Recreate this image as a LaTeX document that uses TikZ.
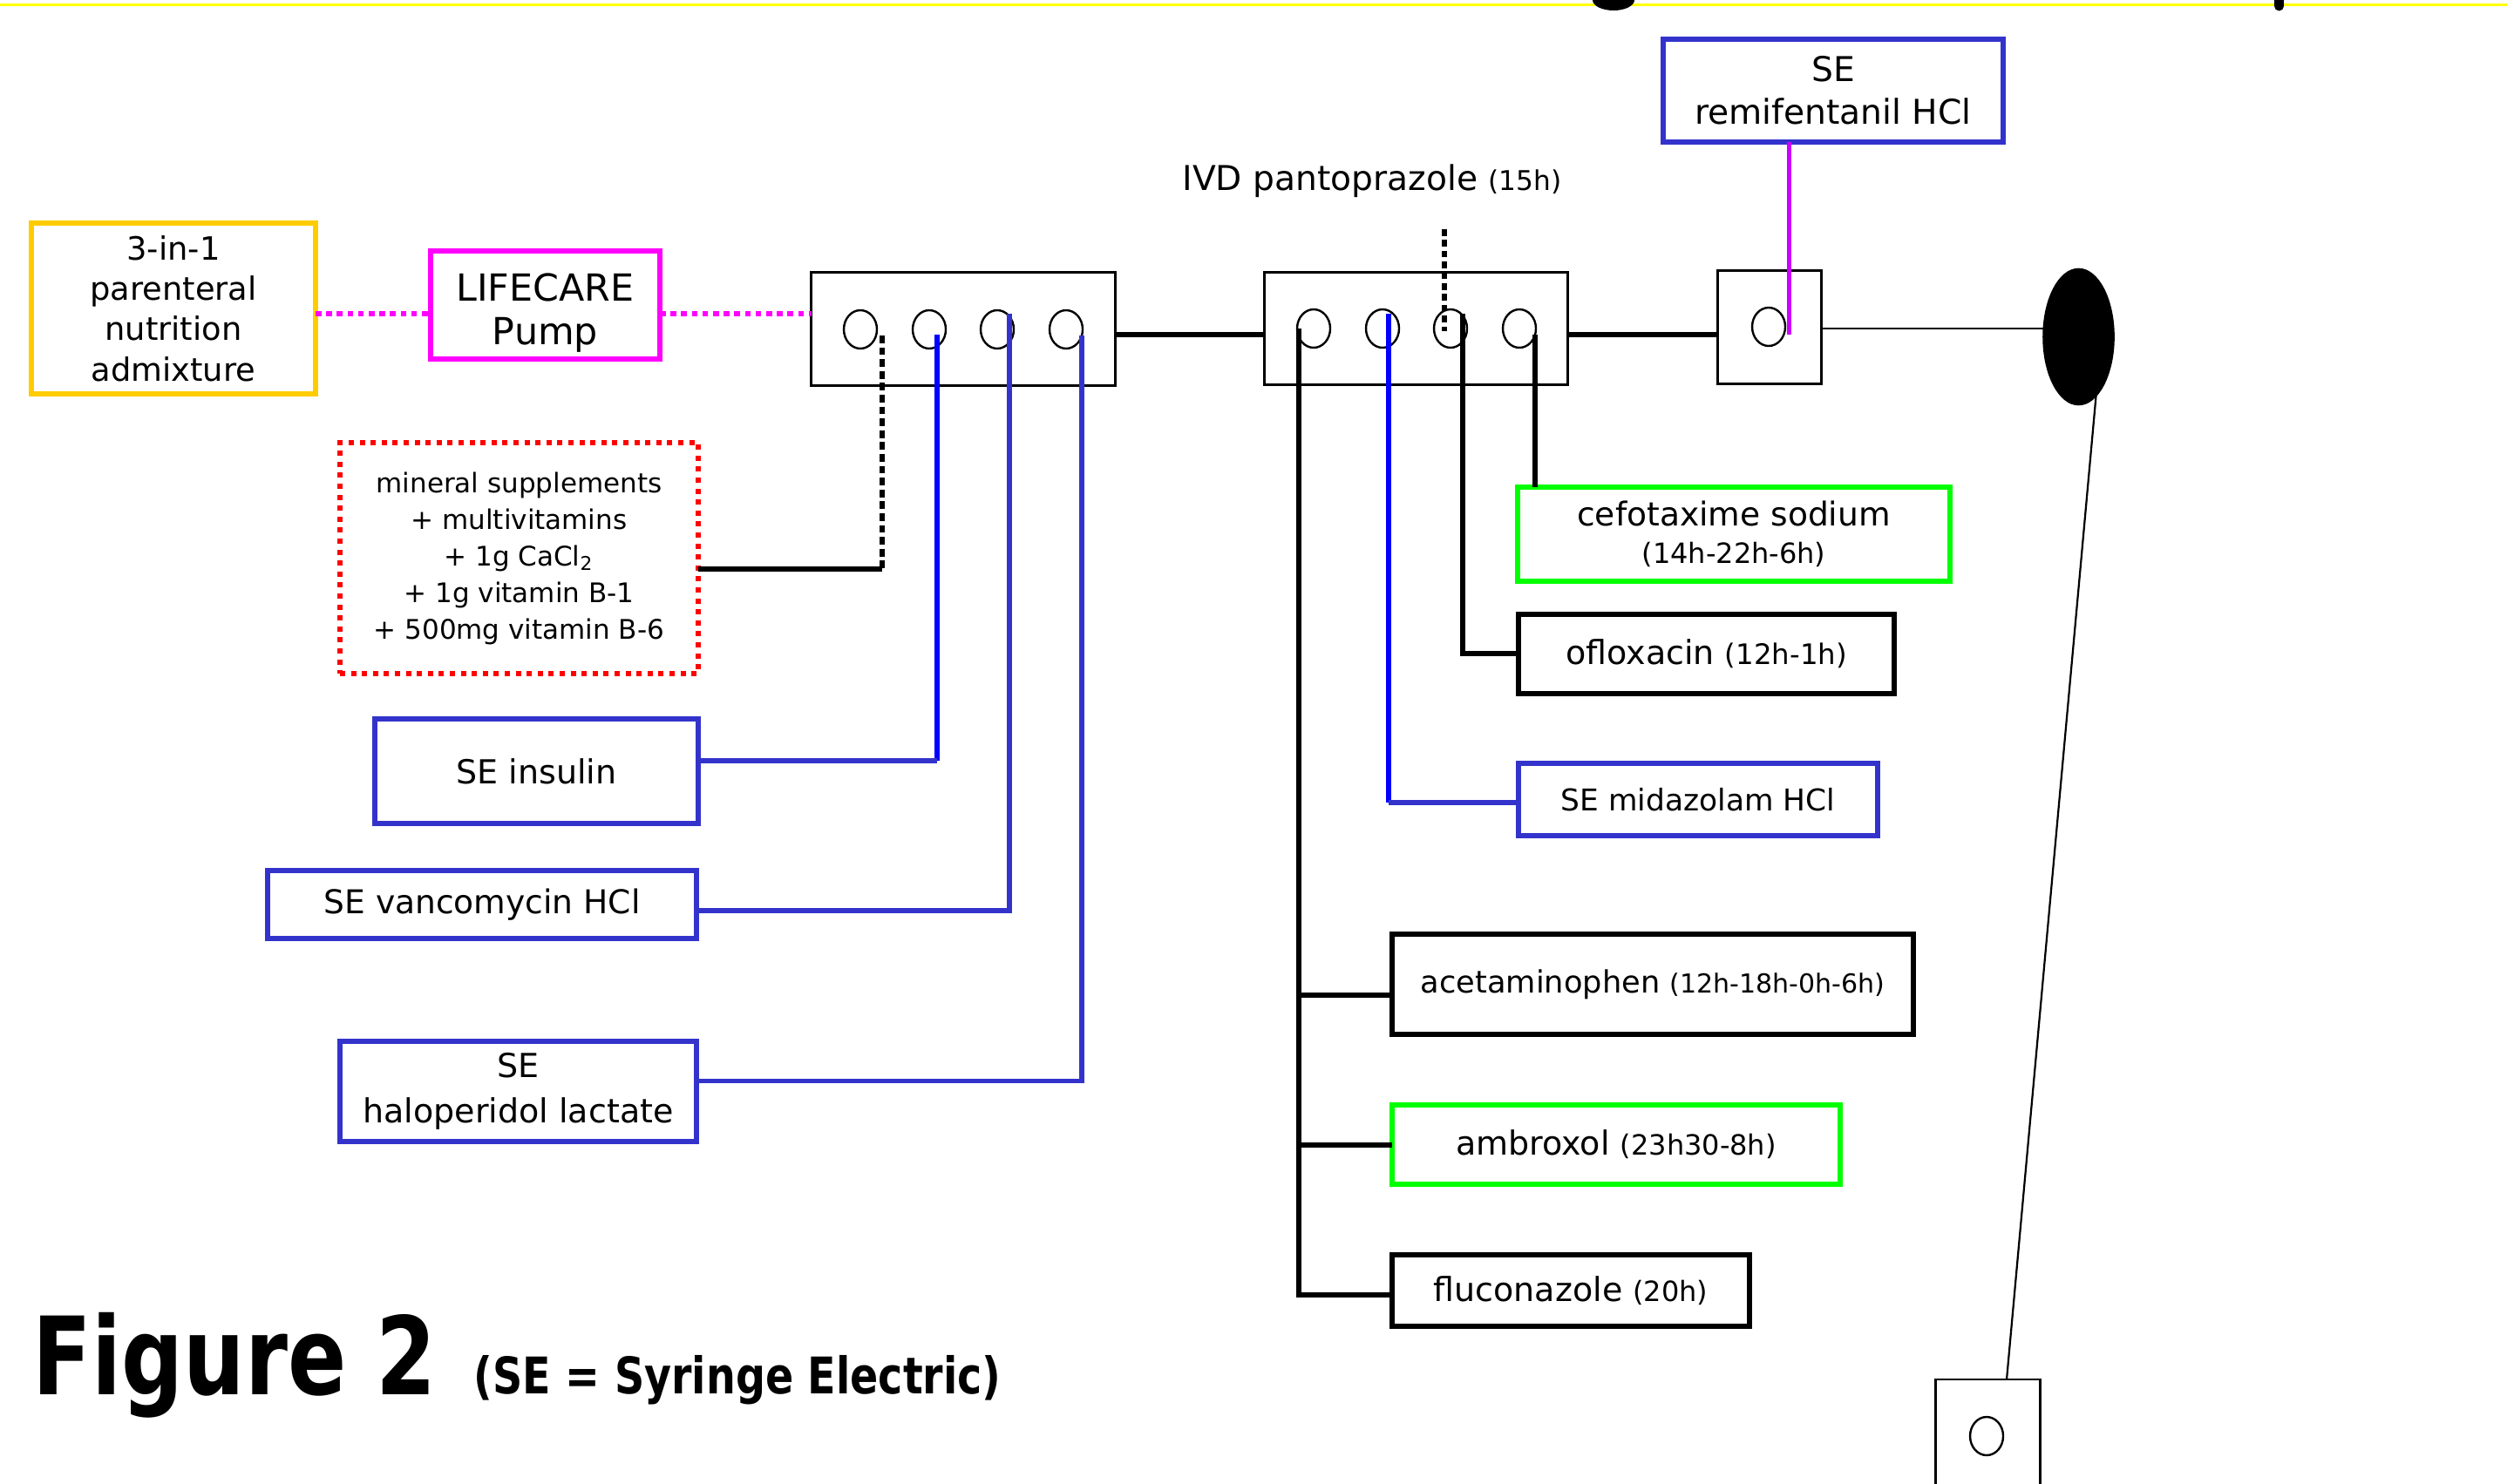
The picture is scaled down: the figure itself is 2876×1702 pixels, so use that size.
\documentclass[tikz,border=0pt]{standalone}
\usepackage{fontspec}
\setmainfont{DejaVu Sans}
\usepackage{graphicx}
\usetikzlibrary{shapes.geometric,calc}
\definecolor{ygold}{HTML}{FFCC00}
\definecolor{magc}{HTML}{FF00FF}
\definecolor{bboxc}{HTML}{3333CC}
\definecolor{bpure}{HTML}{0000FF}
\definecolor{grnc}{HTML}{00FF00}
\definecolor{vioc}{HTML}{CC00FF}
\definecolor{redc}{HTML}{FF0000}
\definecolor{yline}{HTML}{FFFF00}
\newcommand\fsz[2]{\fontsize{#1}{#2}\selectfont}
\tikzset{
  bx/.style={draw, rectangle, inner sep=0pt, outer sep=0pt, line width=1.6pt, align=center, text=black},
  sz/.style 2 args={minimum width=#1*0.25pt, minimum height=#2*0.25pt},
  manif/.style={draw, rectangle, inner sep=0pt, outer sep=0pt, line width=0.7pt},
  port/.style={draw, ellipse, inner sep=0pt, outer sep=0pt, line width=0.6pt, minimum width=9.5pt, minimum height=11pt},
  thk/.style={line width=1.5pt, black},
  bluev/.style={line width=1.3pt, bpure},
  blueh/.style={line width=1.3pt, bboxc},
  magdot/.style={magc, line width=1.5pt, dash pattern=on 1.65pt off 1.4pt},
  kdot/.style={black, line width=1.4pt, dash pattern=on 2.2pt off 1.2pt},
  pdot/.style={black, line width=1.3pt, dash pattern=on 1.9pt off 1.2pt},
  thinl/.style={black, line width=0.45pt},
}
\begin{document}
\begin{tikzpicture}[x=0.25pt,y=-0.25pt]
\fill[white] (0,0) rectangle (2876,1702);
\useasboundingbox (0,0) rectangle (2876,1702);
% top rule and cut-off title fragments
\draw[yline, line width=0.75pt] (0,5.5) -- (2876,5.5);
\fill[black] (1851,0) ellipse [x radius=24, y radius=12];
\fill[black] (2609,-10) rectangle (2620,7);
\fill[black] (2614.5,7) circle [radius=5.5];

% left boxes
\node[bx, draw=ygold, sz={326}{196}, font=\fsz{9.2pt}{11.6pt}] (ybox) at (199,354)
  {3-in-1\\parenteral\\nutrition\\admixture};
\node[bx, draw=magc, sz={263}{124}, font=\fsz{10.7pt}{12.5pt}] (lc) at (625.5,350)
  {\rule{0pt}{12.4pt}LIFECARE\\Pump};
\node[bx, draw=redc, line width=1.4pt, dash pattern=on 1.5pt off 1.65pt, sz={411}{265}, font=\fsz{7.75pt}{10.5pt}] (mineral) at (595.5,640.5)
  {mineral supplements\\+ multivitamins\\+ 1g CaCl\textsubscript{2}\\+ 1g vitamin B-1\\+ 500mg vitamin B-6};
\node[bx, draw=bboxc, sz={371}{120}, font=\fsz{9.5pt}{12pt}] (insulin) at (615.5,885) {SE insulin};
\node[bx, draw=bboxc, sz={492}{78}, font=\fsz{9.4pt}{12pt}] (vanc) at (553,1038) {SE vancomycin HCl};
\node[bx, draw=bboxc, sz={409}{115}, font=\fsz{9.5pt}{13pt}] (halo) at (594.5,1252.5) {SE\\haloperidol lactate};

% manifolds
\node[manif, sz={349}{130}] (m1) at (1105,377.5) {};
\node[manif, sz={348}{129}] (m2) at (1624.5,377) {};
\node[manif, sz={119}{130}] (small) at (2030,375.5) {};
\node[manif, sz={120}{140}] (bot) at (2280.5,1653) {};
\node[port] (p11) at (987,378) {};
\node[port] (p12) at (1066,378) {};
\node[port] (p13) at (1144,378) {};
\node[port] (p14) at (1223,378) {};
\node[port] (p21) at (1507,377) {};
\node[port] (p22) at (1586,377) {};
\node[port] (p23) at (1664,377) {};
\node[port] (p24) at (1743,377) {};
\node[port] (p31) at (2029,375) {};
\node[port] (p41) at (2279,1648) {};

% right boxes
\node[bx, draw=bboxc, sz={390}{118}, font=\fsz{9.8pt}{12.25pt}] (remi) at (2103,104) {SE\\remifentanil HCl};
\node[anchor=base, inner sep=0pt, text=black, font=\fsz{9.8pt}{12pt}] (panto) at (1574,218)
  {IVD pantoprazole {\fsz{7.8pt}{12pt}(15h)}};
\node[bx, draw=grnc, sz={496}{108}, font=\fsz{9.4pt}{10.75pt}] (ceft) at (1989,613)
  {cefotaxime sodium\\{\fsz{8pt}{10.75pt}(14h-22h-6h)}};
\node[bx, draw=black, sz={431}{91}, font=\fsz{9.5pt}{12pt}] (oflox) at (1957.5,750.5)
  {ofloxacin {\fsz{8.1pt}{12pt}(12h-1h)}};
\node[bx, draw=bboxc, sz={412}{83}, font=\fsz{8.6pt}{12pt}] (mid) at (1948,917.5) {SE midazolam HCl};
\node[bx, draw=black, sz={598}{115}, font=\fsz{8.8pt}{12pt}] (acet) at (1896,1129.5)
  {acetaminophen {\fsz{7.5pt}{12pt}(12h-18h-0h-6h)}};
\node[bx, draw=grnc, sz={514}{91}, font=\fsz{9.5pt}{12pt}] (amb) at (1854,1313.5)
  {ambroxol {\fsz{8pt}{12pt}(23h30-8h)}};
\node[bx, draw=black, sz={410}{82}, font=\fsz{9.5pt}{12pt}] (flu) at (1802,1481)
  {fluconazole {\fsz{8pt}{12pt}(20h)}};

% magenta dotted feed
\draw[magdot] ($(ybox.east)+(0,6)$) -- ($(lc.west)+(0,10)$);
\draw[magdot] ($(lc.east)+(0,10)$) -- ($(m1.west)+(0,-17.5)$);

% manifold 1 connections
\coordinate (a1) at ($(p11.center)+(25,7)$);
\coordinate (a2) at ($(a1)+(0,268)$);
\draw[kdot] (a1) -- (a2);
\draw[thk] (a2) -- (mineral.east |- a2);
\coordinate (b1) at ($(p12.center)+(9,6)$);
\coordinate (b2) at ($(insulin.east)+(0,-12)$);
\draw[bluev] (b1) -- (b1 |- b2);
\draw[blueh] (b1 |- b2) -- (b2);
\coordinate (c1) at ($(p13.center)+(14,-18)$);
\coordinate (c2) at ($(vanc.east)+(0,7)$);
\draw[blueh] (c1) |- (c2);
\coordinate (d1) at ($(p14.center)+(18,7)$);
\coordinate (d2) at ($(halo.east)+(0,-12)$);
\draw[blueh] (d1) |- (d2);

% trunk
\draw[thk] ($(m1.east)+(0,6.5)$) -- ($(m2.west)+(0,7)$);
\draw[thk] ($(m2.east)+(0,7)$) -- ($(small.west)+(0,8.5)$);

% manifold 2 connections
\coordinate (e0) at ($(p21.center)+(-17,0)$);
\coordinate (eF) at ($(flu.west)+(0,5)$);
\coordinate (eA) at ($(acet.west)+(0,12.5)$);
\draw[thk] (e0) |- (eF);
\draw[thk] (e0 |- eA) -- (eA);
\draw[thk] (e0 |- amb.west) -- (amb.west);
\coordinate (f1) at ($(p22.center)+(7,-17)$);
\coordinate (f2) at ($(mid.west)+(0,3.5)$);
\draw[bluev] (f1) -- (f1 |- f2);
\draw[blueh] (f1 |- f2) -- (f2);
\coordinate (g0) at ($(p23.center)+(-7,-114)$);
\draw[pdot] (g0) -- ($(p23.center)+(-7,3)$);
\coordinate (h1) at ($(p23.center)+(14,-17)$);
\draw[thk] (h1) |- ($(oflox.west)+(0,-0.5)$);
\coordinate (k1) at ($(p24.center)+(18,7)$);
\draw[thk] (k1) -- (k1 |- ceft.north);

% remifentanil line
\draw[vioc, line width=1.25pt] ($(remi.south)+(-51,0)$) -- ($(p31.center)+(23,9)$);

% patient side
\coordinate (o1) at (2385,377);
\draw[thinl] ($(small.east)+(0,1.5)$) -- (o1);
\draw[black, line width=0.55pt] (2405,449) -- ($(bot.north)+(21.5,0)$);
\node[ellipse, fill=black, draw=black, inner sep=0pt, minimum width=20.25pt, minimum height=39pt] (oval) at (2384.5,386.5) {};

% caption
\node[anchor=base west, inner sep=0pt, text=black] (fig) at (37,1600)
  {\scalebox{0.8}[1]{\fsz{31pt}{31pt}\bfseries Figure 2}};
\node[anchor=base west, inner sep=0pt, text=black] (sub) at (543,1599)
  {\scalebox{0.82}[1]{\fsz{14.5pt}{15pt}\bfseries (SE = Syringe Electric)}};
\end{tikzpicture}
\end{document}
